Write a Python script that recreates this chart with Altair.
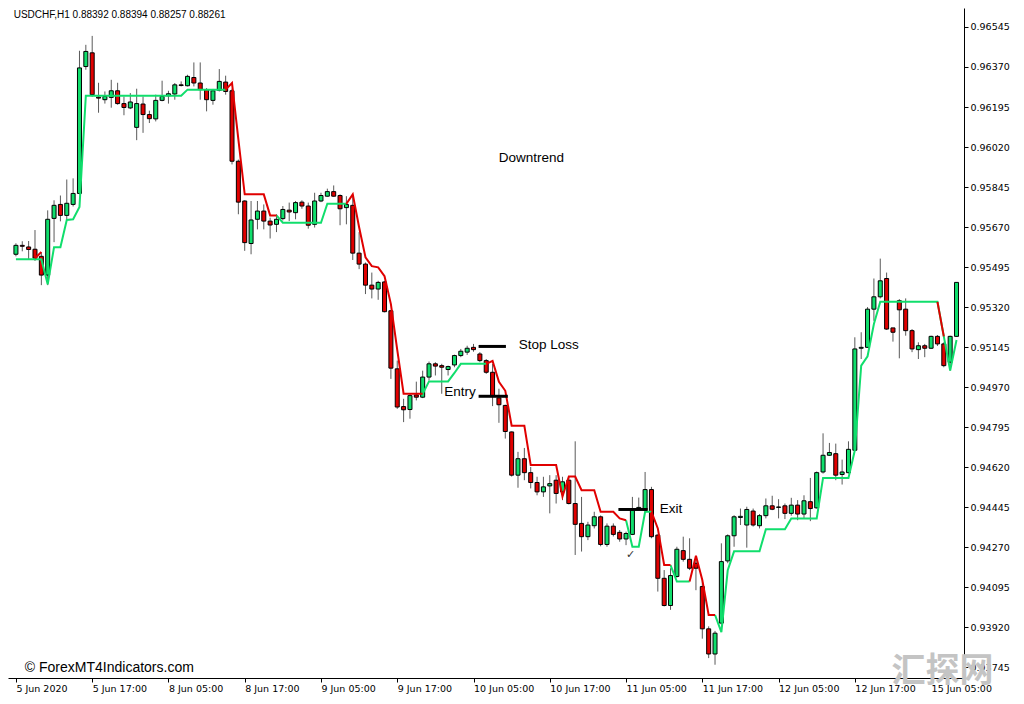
import altair as alt
import pandas as pd

# ---------------- data (USDCHF H1) ----------------
opens = [0.95551,0.95590,0.95583,0.95573,0.95542,0.95460,0.95708,0.95769,0.95721,0.95769,
         0.95817,0.96372,0.96432,0.96238,0.96227,0.96237,0.96266,0.96210,0.96191,0.96106,
         0.96208,0.96162,0.96143,0.96224,0.96244,0.96252,0.96292,0.96288,0.96324,0.96300,
         0.96271,0.96224,0.96268,0.96304,0.96266,0.95958,0.95784,0.95598,0.95704,0.95740,
         0.95696,0.95682,0.95707,0.95744,0.95733,0.95779,0.95762,0.95682,0.95784,0.95805,
         0.95825,0.95808,0.95755,0.95765,0.95556,0.95508,0.95416,0.95399,0.95430,0.95304,
         0.95050,0.94885,0.94872,0.94936,0.94926,0.95014,0.95072,0.95064,0.95047,0.95067,
         0.95108,0.95123,0.95144,0.95115,0.95086,0.95035,0.94923,0.94890,0.94774,0.94585,
         0.94657,0.94596,0.94553,0.94512,0.94538,0.94563,0.94512,0.94563,0.94461,0.94374,
         0.94316,0.94364,0.94403,0.94282,0.94362,0.94335,0.94306,0.94326,0.94435,0.94432,
         0.94522,0.94323,0.94134,0.94015,0.94142,0.94255,0.94217,0.94200,0.94098,0.93913,
         0.93803,0.93938,0.94210,0.94320,0.94400,0.94367,0.94428,0.94364,0.94408,0.94451,
         0.94444,0.94451,0.94418,0.94454,0.94415,0.94469,0.94442,0.94599,0.94672,0.94679,
         0.94588,0.94596,0.94694,0.95140,0.95144,0.95311,0.95365,0.95445,0.95229,0.95348,
         0.95311,0.95217,0.95134,0.95151,0.95140,0.95192,0.95159,0.95079,0.95192]
highs = [0.95599,0.95608,0.95609,0.95657,0.95560,0.95743,0.95787,0.95808,0.95878,0.95883,
         0.96441,0.96467,0.96506,0.96301,0.96263,0.96314,0.96301,0.96241,0.96256,0.96275,
         0.96241,0.96179,0.96249,0.96310,0.96266,0.96300,0.96307,0.96336,0.96390,0.96390,
         0.96278,0.96274,0.96361,0.96332,0.96275,0.95965,0.95787,0.95784,0.95784,0.95769,
         0.95711,0.95726,0.95762,0.95777,0.95784,0.95787,0.95777,0.95820,0.95820,0.95838,
         0.95852,0.95813,0.95805,0.95813,0.95648,0.95515,0.95471,0.95435,0.95435,0.95307,
         0.95086,0.94919,0.94941,0.94994,0.95042,0.95082,0.95079,0.95072,0.95064,0.95112,
         0.95137,0.95151,0.95159,0.95123,0.95093,0.95072,0.94963,0.94893,0.94776,0.94687,
         0.94704,0.94621,0.94578,0.94578,0.94585,0.94585,0.94578,0.94578,0.94733,0.94490,
         0.94381,0.94425,0.94409,0.94374,0.94374,0.94345,0.94338,0.94490,0.94487,0.94599,
         0.94534,0.94326,0.94170,0.94178,0.94272,0.94316,0.94309,0.94230,0.94127,0.93924,
         0.93904,0.94287,0.94326,0.94410,0.94439,0.94447,0.94439,0.94415,0.94483,0.94495,
         0.94480,0.94461,0.94486,0.94476,0.94497,0.94573,0.94601,0.94768,0.94726,0.94723,
         0.94653,0.94733,0.95188,0.95210,0.95320,0.95445,0.95532,0.95471,0.95229,0.95355,
         0.95358,0.95224,0.95166,0.95159,0.95195,0.95198,0.95166,0.95195,0.95428]
lows = [0.95542,0.95564,0.95529,0.95522,0.95416,0.95416,0.95604,0.95695,0.95704,0.95760,
        0.95813,0.96358,0.96240,0.96170,0.96210,0.96192,0.96205,0.96159,0.96186,0.96050,
        0.96082,0.96125,0.96132,0.96220,0.96210,0.96227,0.96285,0.96285,0.96285,0.96227,
        0.96176,0.96205,0.96263,0.96249,0.95944,0.95726,0.95566,0.95551,0.95660,0.95660,
        0.95620,0.95648,0.95699,0.95696,0.95704,0.95750,0.95663,0.95668,0.95779,0.95803,
        0.95803,0.95678,0.95682,0.95526,0.95486,0.95377,0.95358,0.95352,0.95297,0.95006,
        0.94875,0.94817,0.94832,0.94912,0.94922,0.94999,0.95021,0.94941,0.95021,0.95057,
        0.95101,0.95111,0.95125,0.95079,0.95028,0.94887,0.94814,0.94745,0.94579,0.94530,
        0.94563,0.94527,0.94497,0.94490,0.94418,0.94461,0.94476,0.94457,0.94236,0.94251,
        0.94301,0.94352,0.94274,0.94272,0.94317,0.94294,0.94279,0.94323,0.94431,0.94431,
        0.94309,0.94076,0.94011,0.93996,0.94137,0.94207,0.94170,0.94082,0.93870,0.93785,
        0.93756,0.93931,0.94200,0.94272,0.94367,0.94268,0.94360,0.94352,0.94396,0.94432,
        0.94396,0.94393,0.94408,0.94388,0.94396,0.94384,0.94439,0.94592,0.94669,0.94563,
        0.94544,0.94592,0.94692,0.95093,0.95144,0.95260,0.95358,0.95220,0.95169,0.95096,
        0.95195,0.95123,0.95093,0.95101,0.95137,0.95150,0.95057,0.95042,0.95190]
closes = [0.95590,0.95586,0.95572,0.95534,0.95460,0.95704,0.95765,0.95721,0.95774,0.95817,
          0.96366,0.96438,0.96249,0.96234,0.96241,0.96266,0.96210,0.96193,0.96217,0.96210,
          0.96162,0.96144,0.96224,0.96241,0.96253,0.96292,0.96289,0.96329,0.96300,0.96271,
          0.96227,0.96266,0.96307,0.96263,0.95958,0.95779,0.95602,0.95701,0.95740,0.95696,
          0.95679,0.95704,0.95747,0.95736,0.95777,0.95762,0.95678,0.95784,0.95808,0.95825,
          0.95805,0.95750,0.95769,0.95556,0.95508,0.95416,0.95399,0.95428,0.95300,0.95053,
          0.94883,0.94871,0.94933,0.94926,0.95014,0.95072,0.95062,0.95057,0.95060,0.95108,
          0.95127,0.95140,0.95134,0.95086,0.95035,0.94933,0.94893,0.94776,0.94585,0.94657,
          0.94596,0.94553,0.94512,0.94534,0.94548,0.94505,0.94556,0.94461,0.94370,0.94316,
          0.94367,0.94403,0.94282,0.94362,0.94326,0.94306,0.94330,0.94432,0.94444,0.94522,
          0.94316,0.94134,0.94015,0.94146,0.94261,0.94217,0.94178,0.94178,0.93913,0.93803,
          0.93894,0.94207,0.94320,0.94403,0.94405,0.94435,0.94367,0.94408,0.94451,0.94436,
          0.94446,0.94418,0.94454,0.94415,0.94473,0.94439,0.94596,0.94672,0.94684,0.94585,
          0.94599,0.94698,0.95137,0.95144,0.95311,0.95365,0.95435,0.95224,0.95210,0.95308,
          0.95217,0.95137,0.95151,0.95140,0.95192,0.95159,0.95064,0.95192,0.95428]

N = None
# trend line, bullish (green) part and bearish (red) part; None = not drawn
trend_up = [0.95529,0.95529,0.95529,0.95529,0.95529,0.95420,0.95582,0.95582,0.95701,0.95704,
            0.95758,0.96244,0.96244,0.96244,0.96244,0.96244,0.96244,0.96244,0.96244,0.96244,
            0.96244,0.96244,0.96244,0.96244,0.96244,0.96244,0.96244,0.96271,0.96271,0.96271,
            0.96271,0.96271,0.96271,0.96271,N,N,N,N,N,N,
            N,0.95721,0.95689,0.95689,0.95689,0.95689,0.95689,0.95689,0.95689,0.95772,
            0.95772,0.95772,0.95772,N,N,N,N,N,N,N,
            N,N,N,N,0.94941,0.94995,0.94995,0.94995,0.94995,0.95032,
            0.95072,0.95072,0.95072,0.95072,0.95072,N,N,N,N,N,
            N,N,N,N,N,N,N,N,N,N,
            N,N,N,N,N,N,0.94388,0.94272,0.94272,0.94425,
            0.94425,N,N,0.94192,0.94120,0.94120,0.94120,N,N,N,
            0.93974,0.93899,0.94169,0.94252,0.94252,0.94252,0.94252,0.94252,0.94349,0.94349,
            0.94349,0.94349,0.94396,0.94396,0.94396,0.94396,0.94396,0.94573,0.94573,0.94573,
            0.94573,0.94573,0.94694,0.95064,0.95105,0.95246,0.95343,0.95343,0.95343,0.95343,
            0.95343,0.95343,0.95343,0.95343,0.95343,0.95343,0.95192,0.95042,0.95176]
trend_down = [N,N,N,0.95534,0.95561,N,N,N,N,N,
              N,N,N,N,N,N,N,N,N,N,
              N,N,N,N,N,N,N,N,N,N,
              N,N,N,0.96271,0.96300,0.96053,0.95813,0.95813,0.95813,0.95813,
              0.95721,0.95721,N,N,N,N,N,N,N,N,
              N,N,0.95772,0.95813,0.95669,0.95538,0.95499,0.95494,0.95455,0.95333,
              0.95133,0.94941,0.94941,0.94941,0.94941,N,N,N,N,N,
              N,N,N,N,0.95072,0.95085,0.94993,0.94954,0.94801,0.94801,
              0.94801,0.94629,0.94629,0.94629,0.94629,0.94629,0.94492,0.94579,0.94579,0.94519,
              0.94519,0.94519,0.94425,0.94425,0.94425,0.94396,0.94388,N,N,N,
              0.94425,0.94352,0.94192,0.94192,N,N,0.94120,0.94233,0.94127,0.93974,
              0.93974,N,N,N,N,N,N,N,N,N,
              N,N,N,N,N,N,N,N,N,N,
              N,N,N,N,N,N,N,N,N,N,
              N,N,N,N,N,0.95343,0.95192,N,N]

x_tick_idx = [0, 12, 24, 36, 48, 60, 72, 84, 96, 108, 120, 132, 144]
x_tick_labels = ["5 Jun 2020", "5 Jun 17:00", "8 Jun 05:00", "8 Jun 17:00", "9 Jun 05:00",
                 "9 Jun 17:00", "10 Jun 05:00", "10 Jun 17:00", "11 Jun 05:00", "11 Jun 17:00",
                 "12 Jun 05:00", "12 Jun 17:00", "15 Jun 05:00"]
y_ticks = [0.93745, 0.93920, 0.94095, 0.94270, 0.94445, 0.94620, 0.94795, 0.94970, 0.95145,
           0.95320, 0.95495, 0.95670, 0.95845, 0.96020, 0.96195, 0.96370, 0.96545]

# annotations: trade levels (bar index from, bar index to, price)
level_names = ["Stop Loss", "Entry", "Exit"]
level_from = [72.8, 72.8, 94.8]
level_to = [77.1, 77.4, 99.4]
level_price = [0.95148, 0.94930, 0.94435]

label_texts = ["Stop Loss", "Entry", "Exit"]
label_idx = [79.1, 67.4, 101.3]
label_price = [0.95154, 0.94950, 0.94439]

title_text = ["Downtrend"]
title_idx = [81.1]
title_price = [0.95974]

header_text = ["USDCHF,H1  0.88392 0.88394 0.88257 0.88261"]
header_idx = [-0.35]
header_price = [0.96598]

credit_text = ["\u00a9 ForexMT4Indicators.com"]
credit_idx = [1.4]
credit_price = [0.93742]

check_text = ["\u2713"]
check_idx = [96.7]
check_price = [0.94235]

mark_text = ["\u6c47\u63a2\u7f51"]
mark_idx = [145.8]
mark_price = [0.93724]

# ---------------- frames ----------------
n = len(opens)
bars = pd.DataFrame({"idx": list(range(n)), "open": opens, "high": highs,
                     "low": lows, "close": closes})
bars["dir"] = ["up" if c >= o else "down" for o, c in zip(opens, closes)]


def runs(values, side):
    rows, seg, prev = [], 0, None
    for i, v in enumerate(values):
        if v is None:
            if prev is not None:
                seg += 1
            prev = None
            continue
        rows.append({"idx": i, "value": v, "side": side, "seg": f"{side}{seg}"})
        prev = v
    return rows


lines = pd.DataFrame(runs(trend_up, "up") + runs(trend_down, "down"))
levels = pd.DataFrame({"name": level_names, "x0": level_from, "x1": level_to, "p": level_price})
labels = pd.DataFrame({"t": label_texts, "idx": label_idx, "p": label_price})

GREEN_BODY = "#10DE6C"
RED_BODY = "#E00000"
LINE_GREEN = "#3CF2B4"
LINE_RED = "#FF0000"

xs = alt.Scale(domain=[-0.46, 148.39], nice=False, zero=False)
ys = alt.Scale(domain=[0.93698, 0.96628], nice=False, zero=False)

label_expr = "[" + ",".join(f"'{s}'" for s in x_tick_labels) + "][round(datum.value/12)]"

x_axis = alt.Axis(values=x_tick_idx, labelExpr=label_expr, labelAlign="left",
                  labelBaseline="top", labelPadding=1, tickSize=4, grid=False,
                  title=None, labelFont="DejaVu Sans", labelFontSize=9.5,
                  labelColor="black", domainColor="black", tickColor="black",
                  labelFlush=False, labelOverlap=False, labelBound=False)
y_axis = alt.Axis(orient="right", values=y_ticks, labelExpr="format(datum.value, '.5f')",
                  grid=False, title=None, tickSize=4, labelPadding=2,
                  labelFont="DejaVu Sans", labelFontSize=9.5, labelColor="black",
                  domainColor="black", tickColor="black", labelOverlap=False,
                  labelFlush=False)


def X(field):
    return alt.X(field, scale=xs, axis=x_axis)


def Y(field):
    return alt.Y(field, scale=ys, axis=y_axis)


base = alt.Chart(bars)

wicks = base.mark_rule(color="#5a5a5a", strokeWidth=1).encode(
    x=X("idx:Q"), y=Y("low:Q"), y2="high:Q",
)

bodies = base.mark_bar(size=4, stroke="black", strokeWidth=1).encode(
    x=X("idx:Q"), y=Y("open:Q"), y2="close:Q",
    color=alt.Color("dir:N", scale=alt.Scale(domain=["up", "down"],
                                             range=[GREEN_BODY, RED_BODY]), legend=None),
)

trend = alt.Chart(lines).mark_line(strokeWidth=2).encode(
    x=X("idx:Q"), y=Y("value:Q"),
    detail="seg:N",
    color=alt.Color("side:N", scale=alt.Scale(domain=["up", "down"],
                                              range=[LINE_GREEN, LINE_RED]), legend=None),
)

level_rules = alt.Chart(levels).mark_rule(color="black", strokeWidth=3).encode(
    x=X("x0:Q"), x2="x1:Q", y=Y("p:Q"),
)


def text_layer(texts, idxs, prices, **kw):
    df = pd.DataFrame({"t": texts, "idx": idxs, "p": prices})
    return alt.Chart(df).mark_text(baseline="middle", **kw).encode(
        x=X("idx:Q"), y=Y("p:Q"), text="t:N",
    )


level_text = alt.Chart(labels).mark_text(align="left", baseline="middle",
                                         font="Liberation Sans", fontSize=13.5,
                                         color="black").encode(
    x=X("idx:Q"), y=Y("p:Q"), text="t:N",
)

title = text_layer(title_text, title_idx, title_price, align="center",
                   font="Liberation Sans", fontSize=13.5, color="black")
header = text_layer(header_text, header_idx, header_price, align="left",
                    font="Liberation Sans", fontSize=10, color="black")
credit = text_layer(credit_text, credit_idx, credit_price, align="left",
                    font="Liberation Sans", fontSize=14, color="black")
check = text_layer(check_text, check_idx, check_price, align="center",
                   font="DejaVu Sans", fontSize=11, color="#333333")
watermark = text_layer(mark_text, mark_idx, mark_price, align="center",
                       font="Noto Sans CJK SC", fontSize=34, fontWeight="bold",
                       color="#c4c4c4")

chart = alt.layer(
    wicks, bodies, trend, level_rules, level_text, title, header, credit, check, watermark
).properties(
    width=956, height=670,
    autosize=alt.AutoSizeParams(type="none"),
    padding={"left": 0, "top": 0, "right": 50, "bottom": 16},
).configure_view(stroke=None)

chart.save("out.html", embed_options={"renderer": "svg", "actions": False})
